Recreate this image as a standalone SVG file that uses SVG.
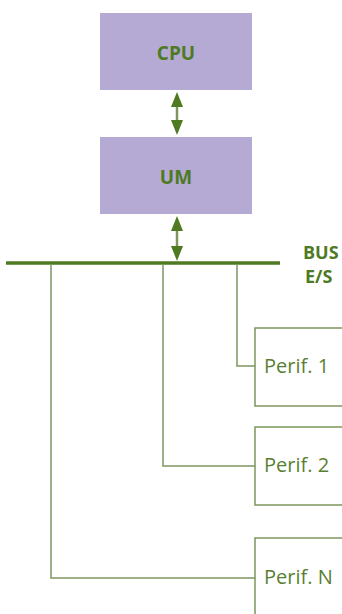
<svg xmlns="http://www.w3.org/2000/svg" width="342" height="614" viewBox="0 0 342 614">
<defs>
<style>
.box{fill:#b5aad4;}
.pbox{fill:#fff;stroke:#7e955c;stroke-width:1.5;}
.lbl{font-family:"Open Sans","Liberation Sans",sans-serif;font-weight:bold;font-size:19px;fill:#4e7a23;text-anchor:middle;}
.blbl{font-family:"Open Sans","Liberation Sans",sans-serif;font-weight:bold;font-size:18px;fill:#4e7a23;}
.plbl{font-family:"Open Sans","Liberation Sans",sans-serif;font-size:20px;fill:#5a7f33;}
.wire{fill:none;stroke:#7e955c;stroke-width:1.5;}
.bus{stroke:#4f7a22;stroke-width:3.5;}
.ashaft{stroke:#7e955c;stroke-width:2.5;}
.ahead{fill:#4f7a22;}
</style>
</defs>
<rect width="342" height="614" fill="#fff"/>
<g id="cpu"><rect class="box" x="100" y="13" width="152" height="77"/><text class="lbl" x="176" y="60">CPU</text></g>
<g id="um"><rect class="box" x="100" y="137" width="152" height="77"/><text class="lbl" x="176" y="184">UM</text></g>
<g id="bus"><line class="bus" x1="6" y1="263" x2="280" y2="263"/><text class="blbl" x="303" y="259">BUS</text><text class="blbl" x="305" y="283">E/S</text></g>
<g id="perif1"><rect class="pbox" x="255" y="328" width="100" height="78"/><text class="plbl" x="264" y="373">Perif. 1</text></g>
<g id="perif2"><rect class="pbox" x="255" y="427" width="100" height="78"/><text class="plbl" x="264" y="472">Perif. 2</text></g>
<g id="perifN"><rect class="pbox" x="255" y="538" width="100" height="90"/><text class="plbl" x="264" y="584">Perif. N</text></g>
<g id="connectors">
<line class="ashaft" x1="177" y1="102" x2="177" y2="125"/>
<polygon class="ahead" points="177,92 171,107 183,107"/>
<polygon class="ahead" points="177,135 171,120 183,120"/>
<line class="ashaft" x1="177" y1="226" x2="177" y2="250"/>
<polygon class="ahead" points="177,216 171,231 183,231"/>
<polygon class="ahead" points="177,261 171,246 183,246"/>
<polyline class="wire" points="237,264 237,366 255,366"/>
<polyline class="wire" points="163,264 163,466 255,466"/>
<polyline class="wire" points="51,264 51,578 255,578"/>
</g>
</svg>
